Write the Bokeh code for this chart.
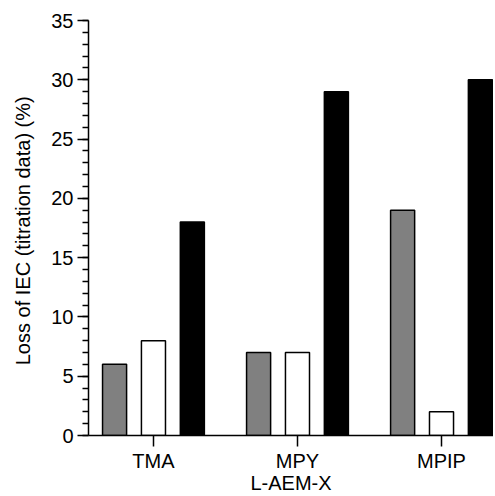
from bokeh.plotting import figure
from bokeh.models import FixedTicker, Range1d, ColumnDataSource
from bokeh.transform import dodge
from bokeh.embed import file_html
from bokeh.resources import INLINE

categories = ["TMA", "MPY", "MPIP"]
series_gray = [6, 7, 19]
series_white = [8, 7, 2]
series_black = [18, 29, 30]
y_ticks = [0, 5, 10, 15, 20, 25, 30, 35]

idx = list(range(len(categories)))

p = figure(width=493, height=496, output_backend="svg", toolbar_location=None,
           x_range=Range1d(-0.451, 2.361), y_range=Range1d(0, 35),
           min_border_left=88, min_border_right=0, min_border_top=20, min_border_bottom=60)
p.outline_line_color = None
p.xgrid.visible = False
p.ygrid.visible = False
p.background_fill_color = "white"
p.border_fill_color = "white"

w = 0.167
off = 0.27
src = ColumnDataSource(dict(x=idx, g=series_gray, w_=series_white, b=series_black))
p.vbar(x=dodge("x", -off), top="g", width=w, source=src, fill_color="#808080", line_color="black", line_width=1.5)
p.vbar(x=dodge("x", 0), top="w_", width=w, source=src, fill_color="white", line_color="black", line_width=1.5)
p.vbar(x=dodge("x", off), top="b", width=w, source=src, fill_color="black", line_color="black", line_width=1.5)

font = "Liberation Sans"
p.xaxis.ticker = FixedTicker(ticks=idx)
p.xaxis.major_label_overrides = {i: c for i, c in zip(idx, categories)}
p.xaxis.axis_label = "L-AEM-X"
p.yaxis.ticker = FixedTicker(ticks=y_ticks, minor_ticks=list(range(0, 36)))
p.yaxis.axis_label = "Loss of IEC (titration data)  (%)"

for ax in (p.xaxis[0], p.yaxis[0]):
    ax.axis_line_width = 1.5
    ax.axis_line_color = "black"
    ax.major_tick_line_width = 1.5
    ax.minor_tick_line_width = 1.5
    ax.major_tick_line_color = "black"
    ax.minor_tick_line_color = "black"
    ax.major_tick_in = 0
    ax.minor_tick_in = 0
    ax.major_label_text_font = font
    ax.major_label_text_font_size = "20px"
    ax.major_label_text_color = "black"
    ax.axis_label_text_font = font
    ax.axis_label_text_font_size = "20px"
    ax.axis_label_text_font_style = "normal"
    ax.axis_label_text_color = "black"

p.xaxis.major_tick_out = 11
p.xaxis.minor_tick_out = 0
p.xaxis.major_label_standoff = 3
p.xaxis.axis_label_standoff = -3
p.yaxis.major_tick_out = 11
p.yaxis.minor_tick_out = 6
p.yaxis.major_label_standoff = 4
p.yaxis.axis_label_standoff = 14

open("out.html", "w").write(file_html(p, INLINE))
